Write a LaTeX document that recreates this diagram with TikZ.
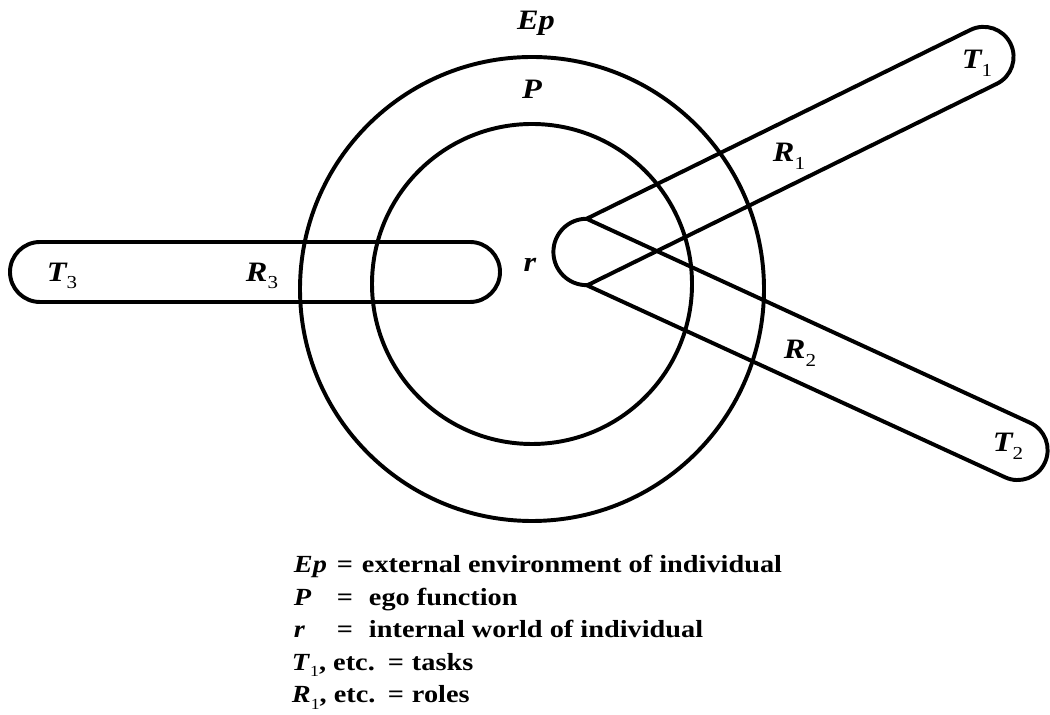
\documentclass[tikz,border=0pt]{standalone}
\usepackage{fontspec}
\setmainfont{Liberation Serif}[FakeStretch=1.15]
\usetikzlibrary{calc}
\newcommand\sbs[1]{\raisebox{-0.55ex}{\fontsize{11}{11}\selectfont\upshape\mdseries #1}}
\newcommand\lsb[1]{\raisebox{-0.6ex}{\fontsize{13}{13}\selectfont\upshape\mdseries #1}}
\newcommand\lab[2]{\textbf{\textit{#1}}\lsb{#2}}
\begin{document}
\begin{tikzpicture}[x=0.025cm,y=0.025cm,line width=2.8pt,
  txt/.style={font=\fontsize{17.5}{21}\selectfont\bfseries,inner sep=0pt,anchor=base west},
  lbl/.style={font=\fontsize{20}{24}\selectfont\bfseries\itshape,inner sep=0pt},
  outline/.style={line join=round}]
\useasboundingbox (0,0) rectangle (1050,715);
% circles
\draw (532,426) circle[radius=232];
\draw (532,431) circle[radius=160];
% R3 bar
\draw[outline] (40,473) -- (470,473) arc[start angle=90,end angle=-90,radius=30]
  -- (40,413) arc[start angle=270,end angle=90,radius=30] -- cycle;
% V-shaped bars
\coordinate (C) at (587,463);
\coordinate (E1) at ($(C)+(26.2:442)$);
\coordinate (E2) at ($(C)+(-24.7:474)$);
\coordinate (u1) at ($(C)+(116.2:30)$);
\coordinate (u1e) at ($(E1)+(116.2:30)$);
\coordinate (l1) at ($(C)+(-63.8:30)$);
\coordinate (l1e) at ($(E1)+(-63.8:30)$);
\coordinate (u2) at ($(C)+(65.3:30)$);
\coordinate (u2e) at ($(E2)+(65.3:30)$);
\coordinate (l2) at ($(C)+(-114.7:30)$);
\coordinate (l2e) at ($(E2)+(-114.7:30)$);
\coordinate (A) at (intersection of u1--u1e and u2--u2e);
\coordinate (B) at (intersection of l1--l1e and l2--l2e);
\draw[outline] (A) arc[start angle=90,end angle=270,radius=33.2] -- (l2e)
  arc[start angle=-114.7,end angle=65.3,radius=30] -- (A) -- (u1e)
  arc[start angle=116.2,end angle=-63.8,radius=30] -- (B);
% labels
\node[lbl] (Ep) at (536,692) {Ep};
\node[lbl] (P) at (532,626) {P};
\node[lbl] (r) at (530,450) {r};
\node[lbl] (T3) at (62,439) {\lab{T}{3}};
\node[lbl] (R3) at (262,439) {\lab{R}{3}};
\node[lbl] (R1) at (789,559) {\lab{R}{1}};
\node[lbl] (T1) at (977,652) {\lab{T}{1}};
\node[lbl] (R2) at (800,362) {\lab{R}{2}};
\node[lbl] (T2) at (1008,269) {\lab{T}{2}};
% legend
\node[txt] (k1) at (292,142) {\textit{Ep}};
\node[txt] (q1) at (335,142) {=};
\node[txt] (d1) at (360,142) {external environment of individual};
\node[txt] (k2) at (292,109.5) {\textit{P}};
\node[txt] (q2) at (335,109.5) {=};
\node[txt] (d2) at (367,109.5) {ego function};
\node[txt] (k3) at (292,77) {\textit{r}};
\node[txt] (q3) at (335,77) {=};
\node[txt] (d3) at (367,77) {internal world of individual};
\node[txt] (k4) at (290,44.5) {\textit{T}\sbs{1}, etc.};
\node[txt] (q4) at (386,44.5) {=};
\node[txt] (d4) at (410,44.5) {tasks};
\node[txt] (k5) at (290,12) {\textit{R}\sbs{1}, etc.};
\node[txt] (q5) at (386,12) {=};
\node[txt] (d5) at (410,12) {roles};
\end{tikzpicture}
\end{document}
